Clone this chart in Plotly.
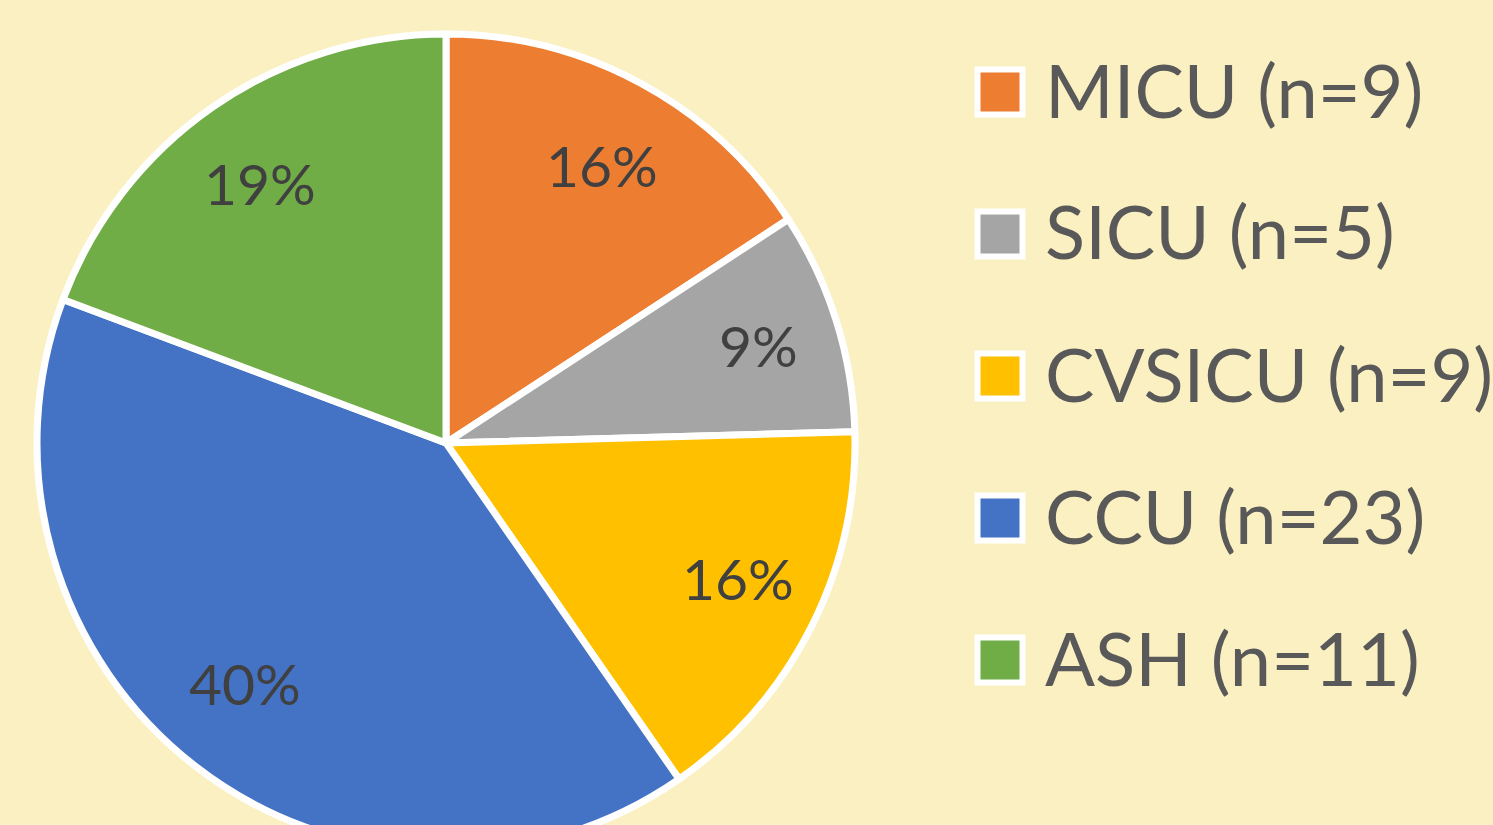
import math
import plotly.graph_objects as go

# ---- data ----
units = ["MICU", "SICU", "CVSICU", "CCU", "ASH"]
counts = [9, 5, 9, 23, 11]
colors = ["#ED7D31", "#A5A5A5", "#FFC000", "#4472C4", "#70AD47"]

# ---- layout constants (pixels) ----
W, H = 1493, 860
CX, CY, R = 446, 443, 409
BG = "#FBF0C1"
LABEL_FONT = "Lato"

total = sum(counts)

def px_to_paper(x, y):
    return x / W, 1 - y / H

x0, y1 = px_to_paper(CX - R, CY - R)
x1, y0 = px_to_paper(CX + R, CY + R)

fig = go.Figure(
    go.Pie(
        labels=[f"{u} (n={c})" for u, c in zip(units, counts)],
        values=counts,
        sort=False,
        direction="clockwise",
        rotation=0,
        marker=dict(colors=colors, line=dict(color="white", width=7)),
        textinfo="none",
        hoverinfo="label+percent",
        showlegend=False,
        domain=dict(x=[x0, x1], y=[y0, y1]),
    )
)

annotations = []
# percentage labels at slice mid-angle
cum = 0
for c in counts:
    mid = (cum + c / 2) / total * 2 * math.pi
    cum += c
    lx = CX + 0.8 * R * math.sin(mid)
    ly = CY - 5 - 0.76 * R * math.cos(mid)
    px, py = px_to_paper(lx, ly)
    annotations.append(dict(
        x=px, y=py, xref="paper", yref="paper",
        text=f"{round(100 * c / total)}%", showarrow=False,
        xanchor="center", yanchor="middle",
        font=dict(family=LABEL_FONT, size=57, color="#404040"),
    ))

# custom legend
shapes = []
leg_x = 1000
leg_y0 = 92
leg_dy = 142
sq = 45
for i, (u, c, col) in enumerate(zip(units, counts, colors)):
    cy = leg_y0 + i * leg_dy
    ax0, ay1 = px_to_paper(leg_x - sq / 2, cy - sq / 2)
    ax1, ay0 = px_to_paper(leg_x + sq / 2, cy + sq / 2)
    shapes.append(dict(type="rect", xref="paper", yref="paper",
                       x0=ax0, x1=ax1, y0=ay0, y1=ay1,
                       fillcolor=col, line=dict(color="white", width=6)))
    tx, ty = px_to_paper(1043, cy - 3)
    annotations.append(dict(
        x=tx, y=ty, xref="paper", yref="paper",
        text=f"{u} (n={c})", showarrow=False,
        xanchor="left", yanchor="middle",
        font=dict(family=LABEL_FONT, size=74, color="#595959"),
    ))

fig.update_layout(
    width=W, height=H,
    margin=dict(l=0, r=0, t=0, b=0),
    paper_bgcolor=BG, plot_bgcolor=BG,
    annotations=annotations,
    shapes=shapes,
    showlegend=False,
)

fig.write_html(
    "out.html",
    config={"displayModeBar": False},
    post_script="document.body.style.margin='0';document.body.style.overflow='hidden';document.documentElement.style.overflow='hidden';",
)
